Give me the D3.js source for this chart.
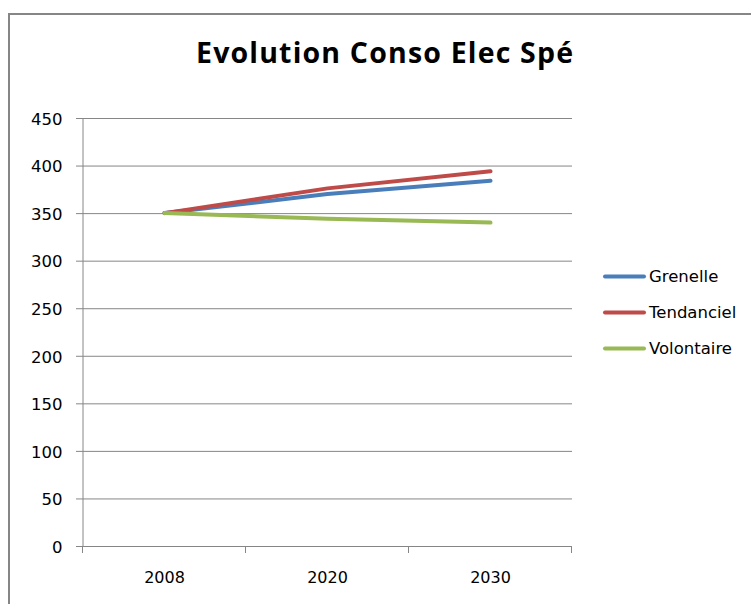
<!DOCTYPE html>
<html><head><meta charset="utf-8">
<script src="https://cdn.jsdelivr.net/npm/d3@7"></script>
<style>body{margin:0;background:#fff}svg{display:block}</style>
</head><body>
<script>
const categories = ["2008", "2020", "2030"];
const yTicks = [0, 50, 100, 150, 200, 250, 300, 350, 400, 450];
const seriesNames = ["Grenelle", "Tendanciel", "Volontaire"];
const grenelle = [350, 370, 384];
const tendanciel = [350, 376, 394];
const volontaire = [350, 344, 340];
const colors = ["#4a7ebb", "#be4b48", "#98b954"];
const series = [grenelle, tendanciel, volontaire];

const W = 751, H = 604;
const svg = d3.select("body").append("svg").attr("width", W).attr("height", H);
svg.append("rect").attr("x", 9).attr("y", 14).attr("width", 760).attr("height", 620)
  .attr("fill", "#fff").attr("stroke", "#868686").attr("stroke-width", 2);

const L = 83, R = 572, T = 118, B = 546;
const x = d3.scaleBand().domain(categories).range([L, R]);
const y = d3.scaleLinear().domain([0, 450]).range([B, T]);
const font = "'DejaVu Sans', sans-serif";

svg.append("text").attr("x", 384.5).attr("y", 63).attr("text-anchor", "middle")
  .attr("font-family", "'Open Sans', sans-serif").attr("font-weight", "bold").attr("font-size", 28.5)
  .attr("textLength", 377).attr("lengthAdjust", "spacing")
  .attr("fill", "#000").text("Evolution Conso Elec Spé");

// gridlines
svg.append("g").selectAll("line").data(yTicks).join("line")
  .attr("x1", L - 7).attr("x2", R).attr("y1", d => y(d) + 0.5).attr("y2", d => y(d) + 0.5)
  .attr("stroke", "#868686").attr("stroke-width", 1);

// y axis
const ya = svg.append("g").attr("transform", `translate(${L - 0.5},0)`)
  .call(d3.axisLeft(y).tickValues(yTicks).tickSize(0).tickPadding(20));
ya.select(".domain").attr("stroke", "#868686");
ya.selectAll("text").attr("font-family", font).attr("font-size", 16.5).attr("fill", "#000").attr("dy", "0.35em").attr("y", 0.5);

// x axis
const xa = svg.append("g").attr("transform", `translate(0,${B + 0.5})`)
  .call(d3.axisBottom(x).tickSize(0).tickPadding(25));
xa.select(".domain").remove();
xa.selectAll("text").attr("font-family", font).attr("font-size", 16).attr("fill", "#000");
const bounds = [L, ...categories.map(c => x(c) + x.bandwidth())];
svg.append("g").selectAll("line").data(bounds).join("line")
  .attr("x1", d => Math.round(d) - 0.5).attr("x2", d => Math.round(d) - 0.5)
  .attr("y1", B).attr("y2", B + 7).attr("stroke", "#868686");

// lines
const line = d3.line().x((d, i) => x(categories[i]) + x.bandwidth() / 2).y(d => y(d));
series.forEach((s, i) => {
  svg.append("path").datum(s).attr("d", line).attr("fill", "none")
    .attr("stroke", colors[i]).attr("stroke-width", 4).attr("stroke-linecap", "round").attr("stroke-linejoin", "round");
});

// legend
const lg = svg.append("g");
seriesNames.forEach((n, i) => {
  const ly = 276.5 + i * 36;
  lg.append("line").attr("x1", 605).attr("x2", 644).attr("y1", ly).attr("y2", ly)
    .attr("stroke", colors[i]).attr("stroke-width", 4).attr("stroke-linecap", "round");
  lg.append("text").attr("x", 649).attr("y", ly).attr("dy", "0.35em")
    .attr("font-family", font).attr("font-size", 16.5).attr("fill", "#000").text(n);
});
</script>
</body></html>
